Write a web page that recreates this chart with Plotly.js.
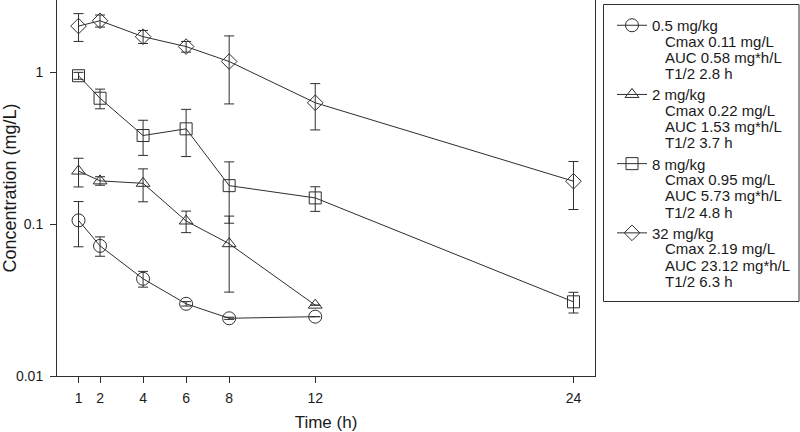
<!DOCTYPE html>
<html>
<head>
<meta charset="utf-8">
<script src="https://cdn.plot.ly/plotly-3.0.1.min.js"></script>
<style>html,body{margin:0;padding:0;background:#fff;}#chart{width:800px;height:432px;}</style>
</head>
<body>
<div id="chart"></div>
<script>
// ---- data ----
var doseLabels = ["0.5 mg/kg", "2 mg/kg", "8 mg/kg", "32 mg/kg"];
var cmaxText = ["Cmax 0.11 mg/L", "Cmax 0.22 mg/L", "Cmax 0.95 mg/L", "Cmax 2.19 mg/L"];
var aucText = ["AUC 0.58 mg*h/L", "AUC 1.53 mg*h/L", "AUC 5.73 mg*h/L", "AUC 23.12 mg*h/L"];
var halfLifeText = ["T1/2 2.8 h", "T1/2 3.7 h", "T1/2 4.8 h", "T1/2 6.3 h"];

var time05 = [1, 2, 4, 6, 8, 12];
var conc05 = [0.106, 0.072, 0.0437, 0.0299, 0.0240, 0.0246];
var sd05   = [0.035, 0.0105, 0.0052, 0.001, 0.0004, 0];

var time2 = [1, 2, 4, 6, 8, 12];
var conc2 = [0.224, 0.193, 0.186, 0.105, 0.0744, 0.0293];
var sd2   = [0.048, 0.0125, 0.0455, 0.017, 0.0387, 0];

var time8 = [1, 2, 4, 6, 8, 12, 24];
var conc8 = [0.951, 0.676, 0.384, 0.425, 0.1795, 0.149, 0.0308];
var sd8   = [0.05, 0.10, 0.10, 0.146, 0.078, 0.0275, 0.0048];

var time32 = [1, 2, 4, 6, 8, 12, 24];
var conc32 = [2.02, 2.19, 1.72, 1.48, 1.18, 0.631, 0.192];
var sd32   = [0.42, 0.2, 0.17, 0.12, 0.56, 0.213, 0.067];

var xTicks = [1, 2, 4, 6, 8, 12, 24];
var yTicks = [0.01, 0.1, 1];
var yTickText = ["0.01", "0.1", "1"];

// ---- styling ----
var ink = "#2e2e2e";
var font = "Liberation Sans, Arial, sans-serif";
var symbols = ["circle-open", "triangle-up-open", "square-open", "diamond-open"];
var sizes = [13, 12, 12, 12];
var times = [time05, time2, time8, time32];
var concs = [conc05, conc2, conc8, conc32];
var sds = [sd05, sd2, sd8, sd32];

var traces = doseLabels.map(function (name, i) {
  return {
    type: "scatter",
    mode: "lines+markers",
    name: name,
    legendgroup: "g" + i,
    x: times[i],
    y: concs[i],
    error_y: {type: "data", array: sds[i], visible: true, color: ink, thickness: 1, width: 5},
    line: {color: ink, width: 1},
    marker: {symbol: symbols[i], size: sizes[i], color: ink, line: {width: 1, color: ink}},
    cliponaxis: false
  };
});

// plot geometry in pixels
var W = 800, H = 432, mL = 57, mR = 205, mT = 0, mB = 56;
var pw = W - mL - mR, ph = H - mT - mB;
function px2paperX(p) { return (p - mL) / pw; }
function px2paperY(p) { return (H - mB - p) / ph; }

var legendTopPx = 9;
var groupPitch = 69.2;
var firstCenterPx = 25;
var linePitch = 16.2;

var annotations = [];
doseLabels.forEach(function (d, i) {
  var lines = [cmaxText[i], aucText[i], halfLifeText[i]];
  lines.forEach(function (t, k) {
    annotations.push({
      xref: "paper", yref: "paper",
      x: px2paperX(663), y: px2paperY(firstCenterPx + i * groupPitch + (k + 1) * linePitch),
      xanchor: "left", yanchor: "middle",
      text: t, showarrow: false,
      font: {family: font, size: 15, color: "#1a1a1a"}
    });
  });
});

var layout = {
  width: W, height: H,
  margin: {l: mL, r: mR, t: mT, b: mB, pad: 0},
  paper_bgcolor: "#ffffff", plot_bgcolor: "#ffffff",
  font: {family: font, size: 14, color: "#1a1a1a"},
  showlegend: true,
  legend: {
    x: px2paperX(612), xanchor: "left",
    y: px2paperY(legendTopPx), yanchor: "top",
    font: {family: font, size: 15, color: "#1a1a1a"},
    bgcolor: "rgba(0,0,0,0)", borderwidth: 0,
    tracegroupgap: 46.7, itemwidth: 30,
    traceorder: "grouped"
  },
  xaxis: {
    range: [0, 25], tickmode: "array", tickvals: xTicks, ticktext: xTicks.map(String),
    ticks: "outside", ticklen: 6, tickwidth: 1, tickcolor: ink,
    showline: true, linecolor: ink, linewidth: 1, mirror: false,
    showgrid: false, zeroline: false,
    tickfont: {family: font, size: 14, color: "#1a1a1a"},
    ticklabelstandoff: 3,
    title: {text: "Time (h)", font: {family: font, size: 17, color: "#1a1a1a"}, standoff: 12}
  },
  yaxis: {
    type: "log", range: [-2, Math.log10(3)],
    tickmode: "array", tickvals: yTicks, ticktext: yTickText,
    ticks: "outside", ticklen: 6, tickwidth: 1, tickcolor: ink,
    showline: true, linecolor: ink, linewidth: 1, mirror: true,
    showgrid: false, zeroline: false,
    tickfont: {family: font, size: 14, color: "#1a1a1a"},
    ticklabelstandoff: 4,
    title: {text: "Concentration (mg/L)", font: {family: font, size: 18, color: "#1a1a1a"}, standoff: 0}
  },
  shapes: [{
    type: "rect", xref: "paper", yref: "paper",
    x0: px2paperX(603.5), x1: px2paperX(799), y0: px2paperY(301.5), y1: px2paperY(4.5),
    line: {color: ink, width: 1}, fillcolor: "rgba(0,0,0,0)"
  }],
  annotations: annotations
};

Plotly.newPlot("chart", traces, layout, {displayModeBar: false, staticPlot: true});
</script>
</body>
</html>
